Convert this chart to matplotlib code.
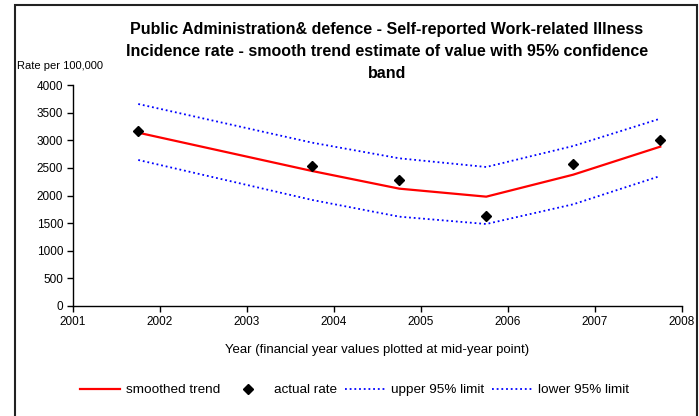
import matplotlib
matplotlib.use("Agg")
import matplotlib.pyplot as plt
from matplotlib.patches import Rectangle

plt.rcParams['font.family'] = ['Liberation Sans', 'DejaVu Sans']

# mid-year points of financial years
years = [2001.75, 2003.75, 2004.75, 2005.75, 2006.75, 2007.75]
trend = [3137, 2443, 2124, 1979, 2377, 2884]
actual = [3162, 2534, 2281, 1629, 2576, 3005]
upper = [3656, 2956, 2673, 2516, 2896, 3391]
lower = [2643, 1919, 1617, 1484, 1841, 2353]
xticks = list(range(2001, 2009))
yticks = list(range(0, 4001, 500))

fig = plt.figure(figsize=(6.99, 4.16), dpi=100)
ax = fig.add_axes([73 / 699, 1 - 306 / 416, (682 - 73) / 699, (306 - 85) / 416])

dots = (0, (1.0, 1.6))
ax.plot(years, trend, color='red', lw=1.6, label='smoothed trend', zorder=3)
ax.plot(years, actual, ls='none', marker='D', ms=5, color='black', label='actual rate', zorder=4)
ax.plot(years, upper, color='blue', lw=1.3, ls=dots, label='upper 95% limit')
ax.plot(years, lower, color='blue', lw=1.3, ls=dots, label='lower 95% limit')

ax.set_xlim(2001, 2008)
ax.set_ylim(0, 4000)
ax.set_xticks(xticks)
ax.set_yticks(yticks)
ax.tick_params(labelsize=8.5, length=4, width=1, direction='out', pad=3)
for s in ['top', 'right']:
    ax.spines[s].set_visible(False)
for s in ['left', 'bottom']:
    ax.spines[s].set_linewidth(1)

ax.set_xlabel("Year (financial year values plotted at mid-year point)", fontsize=9.5, labelpad=12)
fig.text(17 / 699, 1 - 66 / 416, "Rate per 100,000", fontsize=8, va='center', ha='left')
fig.text(387 / 699, 1 - 51.5 / 416,
         "Public Administration& defence - Self-reported Work-related Illness\n"
         "Incidence rate - smooth trend estimate of value with 95% confidence\nband",
         fontsize=11.5, fontweight='bold', ha='center', va='center', linespacing=1.6)

lgd = fig.legend(loc='center left', bbox_to_anchor=(80 / 699, 1 - 390 / 416), ncol=4,
                 frameon=False, fontsize=9.7, handlelength=3.0, handletextpad=0.4,
                 columnspacing=0.6, borderaxespad=0, borderpad=0)

fig.patches.append(Rectangle((14.5 / 699, -0.05), (697 - 14.5) / 699, 1.05 - 5 / 416,
                             transform=fig.transFigure, fill=False, lw=1.5, ec='#222222'))

fig.savefig("out.png", dpi=100)
